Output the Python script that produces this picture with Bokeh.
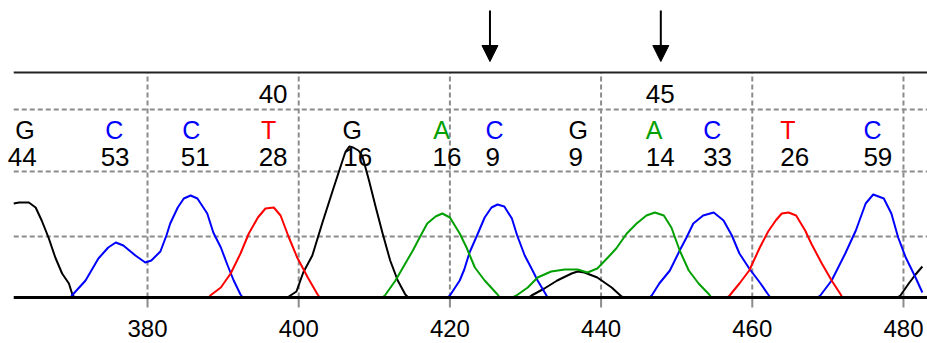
from bokeh.plotting import figure
from bokeh.models import Range1d, Arrow, NormalHead, ColumnDataSource
from bokeh.core.properties import value
from bokeh.embed import file_html
from bokeh.resources import INLINE

# ---- trace data (scan position, intensity) ----
black_x = [362.3, 363.0, 364.3, 365.2, 366.0, 366.9, 367.8, 368.7, 369.6, 370.1, 370.5,
           398.5, 399.7, 400.6, 401.8, 403.1, 404.5, 405.8, 406.2, 406.7, 407.2, 407.9, 408.4,
           409.3, 410.2, 411.1, 412.1, 413.1, 414.1, 414.5,
           430.4, 430.8, 432.5, 434.2, 436.1, 436.9, 437.8, 439.5, 441.4, 442.7, 443.0,
           479.2, 479.6, 480.7, 481.6, 482.5]
black_y = [94, 95, 95, 90, 77, 60, 40, 24, 14, 2, 0,
           0, 6, 25, 42, 74, 107, 137, 146, 151, 150, 147, 142,
           117, 90, 64, 37, 17, 3, 0,
           0, 2, 9, 17, 24, 26, 25, 20, 10, 1, 0,
           0, 2, 14, 23, 31]

blue_x = [369.8, 370.0, 371.8, 373.5, 374.8, 375.8, 376.8, 378.4, 379.7, 380.5, 381.7, 382.5,
          383.0, 384.0, 384.8, 385.7, 386.6, 387.9, 388.7, 389.7, 390.6, 391.4, 392.3, 392.6,
          419.7, 420.0, 421.3, 421.9, 422.6, 423.7, 424.6, 425.5, 426.3, 427.2, 428.2, 428.9,
          429.9, 430.8, 431.6, 432.7, 432.9,
          446.4, 446.7, 447.7, 449.1, 450.4, 451.3, 452.2, 453.5, 454.9, 456.2, 457.3, 458.3,
          459.6, 461.0, 462.1, 462.4,
          468.6, 469.0, 470.5, 472.3, 473.7, 475.0, 476.0, 477.4, 478.4, 479.3, 480.3, 481.6, 482.5]
blue_y = [0, 2, 17, 39, 50, 55, 52, 42, 35, 37, 46, 62,
          74, 90, 99, 102, 99, 84, 65, 50, 32, 17, 3, 0,
          0, 2, 17, 28, 45, 64, 80, 90, 93, 91, 79, 62,
          42, 29, 17, 3, 0,
          0, 2, 14, 27, 47, 60, 74, 82, 85, 77, 62, 44,
          29, 15, 3, 0,
          0, 2, 17, 44, 67, 94, 103, 99, 84, 60, 40, 20, 5]

red_x = [388.1, 388.3, 389.7, 391.0, 392.3, 393.4, 394.6, 395.6, 396.7, 397.6, 398.7, 399.8,
         401.2, 402.5, 402.8,
         456.7, 457.0, 458.3, 459.6, 461.0, 462.1, 463.1, 463.9, 464.8, 465.8, 467.0, 467.8,
         469.2, 470.5, 471.7, 471.9]
red_y = [0, 2, 10, 24, 44, 64, 80, 89, 90, 82, 60, 40,
         20, 3, 0,
         0, 2, 14, 27, 50, 66, 77, 84, 85, 82, 67, 54,
         34, 17, 3, 0]

green_x = [411.0, 411.4, 412.8, 414.1, 415.1, 416.0, 417.0, 418.1, 419.0, 420.0, 421.3, 422.2,
           423.3, 424.6, 426.3, 426.6,
           428.3, 428.8, 430.3, 431.6, 433.4, 435.2, 436.9, 438.2, 439.5, 440.9, 442.0, 443.4,
           444.7, 446.0, 447.1, 448.3, 449.3, 450.4, 451.6, 452.9, 454.3, 454.6]
green_y = [0, 2, 17, 34, 47, 60, 74, 81, 84, 80, 64, 50,
           30, 17, 3, 0,
           0, 2, 10, 20, 26, 28, 28, 25, 29, 40, 49, 64,
           74, 82, 85, 82, 70, 47, 27, 14, 3, 0]

# ---- base calls ----
bases = ["G", "C", "C", "T", "G", "A", "C", "G", "A", "C", "T", "C"]
call_x = [362.5, 374.4, 384.6, 395.0, 405.8, 417.8, 424.7, 435.7, 445.9, 453.5, 463.7, 474.7]
quals = ["44", "53", "51", "28", "16", "16", "9", "9", "14", "33", "26", "59"]
qual_x = [361.5, 373.8, 384.4, 394.7, 405.9, 417.7, 424.7, 435.7, 445.9, 453.5, 463.7, 474.7]
pos_labels = ["40", "45"]
pos_x = [394.7, 445.9]
arrow_x = [425.3, 447.9]
x_ticks = [380, 400, 420, 440, 460, 480]
x_tick_labels = ["380", "400", "420", "440", "460", "480"]

base_colors = {"G": "#000000", "C": "#0000FF", "T": "#FF0000", "A": "#00A000"}

FONT = value("Liberation Sans")
x_start, x_end = 360.55, 483.18
trace_start = 362.3
GRID = "#8C8C8C"

p = figure(width=927, height=343, output_backend="svg", toolbar_location=None,
           x_range=Range1d(x_start, x_end), y_range=Range1d(-46, 297),
           x_axis_location=None, y_axis_location=None,
           min_border_left=0, min_border_right=0, min_border_top=0, min_border_bottom=0)
p.outline_line_color = None
p.xgrid.visible = False
p.ygrid.visible = False
p.background_fill_color = "white"
p.border_fill_color = "white"

# grid lines
p.segment(x0=x_ticks, y0=0, x1=x_ticks, y1=225, line_color=GRID, line_width=2, line_dash="5 3")
p.segment(x0=x_ticks, y0=-10, x1=x_ticks, y1=0, line_color=GRID, line_width=2)
hy = [61, 126, 188]
p.segment(x0=trace_start, y0=hy, x1=x_end, y1=hy, line_color=GRID, line_width=2, line_dash="5 3")
p.segment(x0=trace_start, y0=225, x1=x_end, y1=225, line_color="#222222", line_width=2)

# traces
for xs, ys, col in [(black_x, black_y, "#000000"), (blue_x, blue_y, "#0000FF"),
                    (red_x, red_y, "#FF0000"), (green_x, green_y, "#00A000")]:
    p.line(xs, ys, line_color=col, line_width=2, line_join="round")

# baseline
p.segment(x0=trace_start, y0=0, x1=x_end, y1=0, line_color="black", line_width=3)

# tick labels (x positions through the data scale)
src_t = ColumnDataSource(dict(x=x_ticks, t=x_tick_labels))
p.text(x="x", y=-31, text="t", source=src_t, text_color="black", text_font=FONT,
       text_font_size=value("24px"), text_align="center", text_baseline="middle")

# text rows
src_calls = ColumnDataSource(dict(x=call_x, t=bases, c=[base_colors[b] for b in bases]))
p.text(x="x", y=167.5, text="t", text_color="c", source=src_calls, text_font=FONT,
       text_font_size=value("25px"), text_align="left", text_baseline="middle")
src_q = ColumnDataSource(dict(x=qual_x, t=quals))
p.text(x="x", y=141, text="t", text_color="black", source=src_q, text_font=FONT,
       text_font_size=value("26px"), text_align="left", text_baseline="middle")
src_p = ColumnDataSource(dict(x=pos_x, t=pos_labels))
p.text(x="x", y=203.5, text="t", text_color="black", source=src_p, text_font=FONT,
       text_font_size=value("26px"), text_align="left", text_baseline="middle")

# arrows
for ax in arrow_x:
    p.add_layout(Arrow(end=NormalHead(size=16, fill_color="black", line_color="black"),
                       x_start=ax, y_start=287, x_end=ax, y_end=236,
                       line_color="black", line_width=2))

open("out.html", "w").write(file_html(p, INLINE))
